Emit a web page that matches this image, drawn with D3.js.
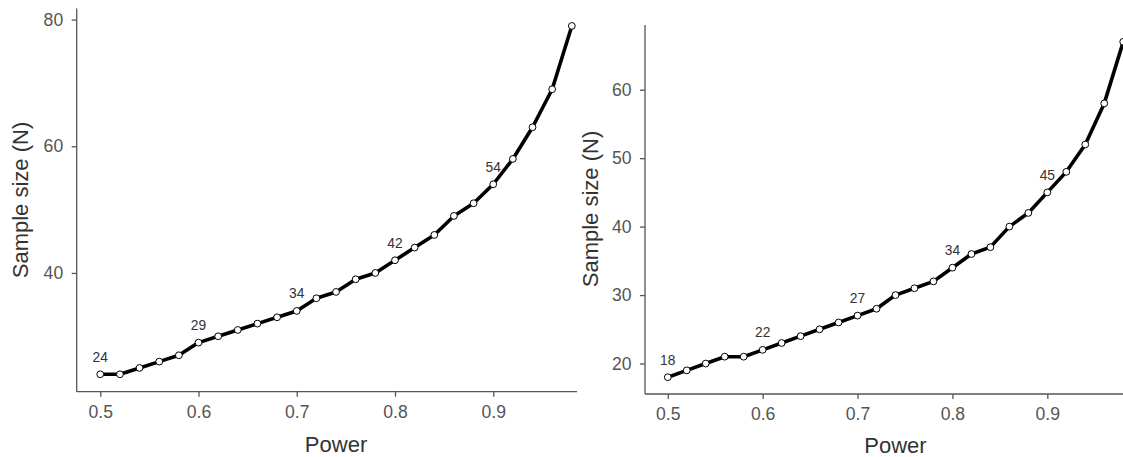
<!DOCTYPE html>
<html>
<head>
<meta charset="utf-8">
<script src="https://cdn.jsdelivr.net/npm/d3@7"></script>
<style>
  body { margin: 0; background: #fff; }
  svg { display: block; font-family: "Liberation Sans", Arial, sans-serif; }
</style>
</head>
<body>
<div id="chart"></div>
<script>
// Data
const power = [0.5, 0.52, 0.54, 0.56, 0.58, 0.6, 0.62, 0.64, 0.66, 0.68, 0.7, 0.72,
  0.74, 0.76, 0.78, 0.8, 0.82, 0.84, 0.86, 0.88, 0.9, 0.92, 0.94, 0.96, 0.98];
const sampleLeft = [24, 24, 25, 26, 27, 29, 30, 31, 32, 33, 34, 36, 37, 39, 40, 42,
  44, 46, 49, 51, 54, 58, 63, 69, 79];
const sampleRight = [18, 19, 20, 21, 21, 22, 23, 24, 25, 26, 27, 28, 30, 31, 32, 34,
  36, 37, 40, 42, 45, 48, 52, 58, 67];
const labelledPower = [0.5, 0.6, 0.7, 0.8, 0.9];
const xTicks = [0.5, 0.6, 0.7, 0.8, 0.9];
const yTicksLeft = [40, 60, 80];
const yTicksRight = [20, 30, 40, 50, 60];

const width = 1123;
const height = 457;

const svg = d3
  .select("#chart")
  .append("svg")
  .attr("width", width)
  .attr("height", height);

// ggplot-style 5% expansion
function expand(ext, k = 0.05) {
  const pad = (ext[1] - ext[0]) * k;
  return [ext[0] - pad, ext[1] + pad];
}

function panel(opts) {
  const { values, left, right, top, bottom, yTicks, clipRight, titleX, titleY, powerY } = opts;
  const data = power.map((p, i) => ({ p, n: values[i] }));

  const g = svg.append("g");

  // left panel is cut off where the right one starts
  if (clipRight) {
    const id = "clip" + Math.round(left);
    svg.append("clipPath").attr("id", id)
      .append("rect").attr("x", 0).attr("y", 0).attr("width", clipRight).attr("height", height);
    g.attr("clip-path", `url(#${id})`);
  }

  const xScale = d3.scaleLinear().domain(expand(d3.extent(power))).range([left, right]);
  const yScale = d3.scaleLinear().domain(expand(d3.extent(values))).range([bottom, top]);

  // Axes
  const xAxis = g.append("g")
    .attr("transform", `translate(0, ${bottom})`)
    .call(d3.axisBottom(xScale).tickValues(xTicks).tickSize(5).tickPadding(9).tickFormat(d3.format(".1f")));
  const yAxis = g.append("g")
    .attr("transform", `translate(${left}, 0)`)
    .call(d3.axisLeft(yScale).tickValues(yTicks).tickSize(5).tickPadding(8.5));

  [xAxis, yAxis].forEach((a) => {
    a.select(".domain").attr("stroke", "#555").attr("stroke-width", 1.3);
    a.selectAll(".tick line").attr("stroke", "#555").attr("stroke-width", 1.3);
    a.selectAll(".tick text").attr("fill", "#555").style("font-size", "17.6px");
  });
  // flat axis lines (no outer ticks)
  xAxis.select(".domain").attr("d", `M${xScale.range()[0]},0H${xScale.range()[1]}`);
  yAxis.select(".domain").attr("d", `M0,${yScale.range()[0]}V${yScale.range()[1]}`);

  // Line
  const lineGenerator = d3.line()
    .x((d) => xScale(d.p))
    .y((d) => yScale(d.n));

  g.append("path")
    .datum(data)
    .attr("d", lineGenerator)
    .attr("fill", "none")
    .attr("stroke", "#000")
    .attr("stroke-width", 3.6)
    .attr("stroke-linejoin", "round");

  g.selectAll("circle.pt")
    .data(data)
    .join("circle")
    .attr("class", "pt")
    .attr("cx", (d) => xScale(d.p))
    .attr("cy", (d) => yScale(d.n))
    .attr("r", 3.4)
    .attr("fill", "#fff")
    .attr("stroke", "#000")
    .attr("stroke-width", 1);

  // Value labels
  g.selectAll("text.lbl")
    .data(data.filter((d) => labelledPower.some((p) => Math.abs(p - d.p) < 1e-9)))
    .join("text")
    .attr("class", "lbl")
    .attr("x", (d) => xScale(d.p))
    .attr("y", (d) => yScale(d.n) - 12.5)
    .attr("text-anchor", "middle")
    .attr("fill", "#333")
    .style("font-size", "13.8px")
    .text((d) => d.n);

  // Titles
  g.append("text")
    .attr("x", (xScale.range()[0] + xScale.range()[1]) / 2)
    .attr("y", powerY)
    .attr("text-anchor", "middle")
    .attr("fill", "#333")
    .style("font-size", "22px")
    .text("Power");

  g.append("text")
    .attr("transform", `translate(${titleX}, ${titleY}) rotate(-90)`)
    .attr("text-anchor", "middle")
    .attr("fill", "#333")
    .style("font-size", "22px")
    .text("Sample size (N)");
}

panel({
  values: sampleLeft, left: 76.7, right: 595.4, top: 8.5, bottom: 391.7,
  yTicks: yTicksLeft, clipRight: 577, titleX: 28, titleY: 200, powerY: 452
});

panel({
  values: sampleRight, left: 645, right: 1146, top: 25, bottom: 394,
  yTicks: yTicksRight, clipRight: null, titleX: 598, titleY: 209, powerY: 453
});
</script>
</body>
</html>
